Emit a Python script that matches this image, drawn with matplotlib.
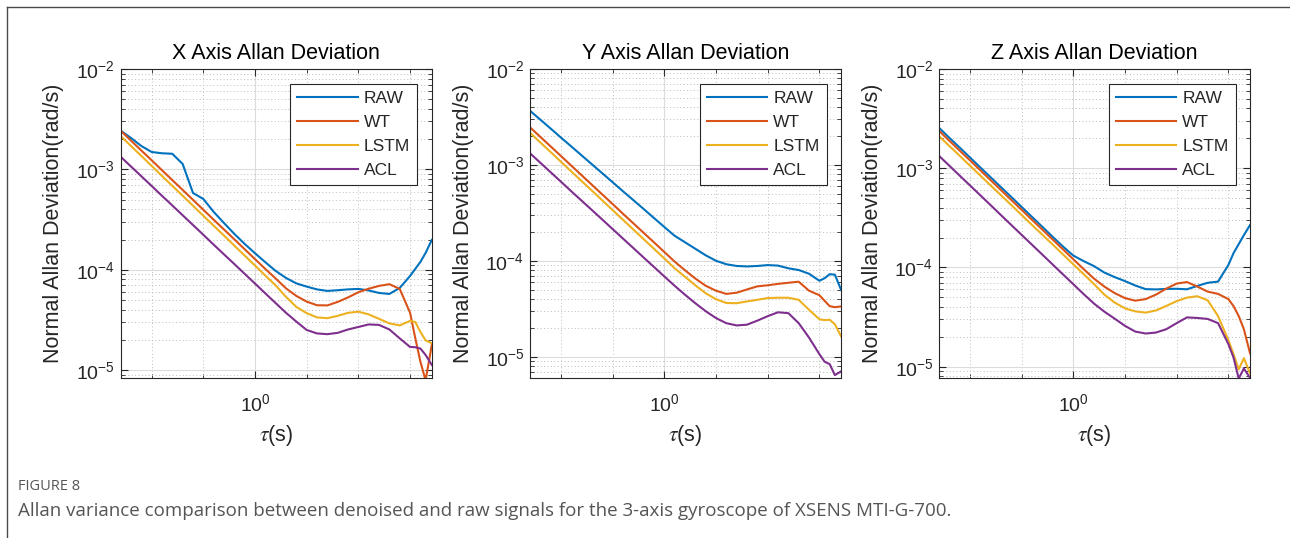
import numpy as np
import matplotlib
matplotlib.use("Agg")
import matplotlib.pyplot as plt
from matplotlib.ticker import FixedLocator, NullFormatter, LogLocator, LogFormatterSciNotation
from matplotlib.lines import Line2D

plt.rcParams['font.family'] = ['Liberation Sans', 'DejaVu Sans']
plt.rcParams['mathtext.fontset'] = 'stix'

# ---------------- data ----------------
tau = [0.00251, 0.00398, 0.00631, 0.01, 0.0158, 0.0251, 0.0398, 0.0631, 0.1, 0.158,
       0.251, 0.398, 0.631, 1.0, 1.58, 2.51, 3.98, 6.31, 10.0, 15.8,
       25.1, 39.8, 63.1, 100.0, 158.0, 251.0, 398.0, 631.0, 1000.0, 1259.0,
       1585.0, 1995.0, 2630.0]

series_names = ["RAW", "WT", "LSTM", "ACL"]
panel_titles = ["X Axis Allan Deviation", "Y Axis Allan Deviation", "Z Axis Allan Deviation"]

x_raw = [2.43e-3, 2.056e-3, 1.71e-3, 1.49e-3, 1.447e-3, 1.43e-3, 1.132e-3, 5.82e-4, 5.07e-4, 3.78e-4,
         2.92e-4, 2.275e-4, 1.807e-4, 1.459e-4, 1.189e-4, 9.73e-5, 8.28e-5, 7.31e-5, 6.79e-5, 6.37e-5,
         6.15e-5, 6.25e-5, 6.37e-5, 6.44e-5, 6.22e-5, 5.87e-5, 5.74e-5, 6.59e-5, 8.67e-5, 1.019e-4,
         1.197e-4, 1.469e-4, 1.98e-4]
x_wt = [2.43e-3, 1.936e-3, 1.542e-3, 1.233e-3, 9.82e-4, 7.82e-4, 6.24e-4, 4.97e-4, 3.96e-4, 3.155e-4,
        2.518e-4, 2.009e-4, 1.6e-4, 1.276e-4, 1.019e-4, 8.18e-5, 6.52e-5, 5.48e-5, 4.81e-5, 4.43e-5,
        4.41e-5, 4.78e-5, 5.30e-5, 5.97e-5, 6.47e-5, 6.90e-5, 7.18e-5, 6.44e-5, 3.72e-5, 2.09e-5,
        1.21e-5, 7.9e-6, 1.78e-5]
x_lstm = [2.153e-3, 1.71e-3, 1.363e-3, 1.084e-3, 8.61e-4, 6.85e-4, 5.46e-4, 4.34e-4, 3.45e-4, 2.75e-4,
          2.19e-4, 1.738e-4, 1.384e-4, 1.102e-4, 8.75e-5, 6.98e-5, 5.36e-5, 4.26e-5, 3.69e-5, 3.35e-5,
          3.29e-5, 3.47e-5, 3.72e-5, 3.82e-5, 3.59e-5, 3.24e-5, 2.92e-5, 2.79e-5, 3.09e-5, 3.02e-5,
          2.40e-5, 1.98e-5, 1.85e-5]
x_acl = [1.338e-3, 1.069e-3, 8.55e-4, 6.84e-4, 5.46e-4, 4.37e-4, 3.49e-4, 2.79e-4, 2.23e-4, 1.78e-4,
         1.422e-4, 1.14e-4, 9.10e-5, 7.28e-5, 5.82e-5, 4.65e-5, 3.72e-5, 3.04e-5, 2.51e-5, 2.32e-5,
         2.28e-5, 2.35e-5, 2.54e-5, 2.69e-5, 2.85e-5, 2.82e-5, 2.54e-5, 2.07e-5, 1.70e-5, 1.69e-5,
         1.64e-5, 1.416e-5, 1.127e-5]

y_raw = [3.68e-3, 2.97e-3, 2.40e-3, 1.93e-3, 1.563e-3, 1.259e-3, 1.016e-3, 8.20e-4, 6.61e-4, 5.33e-4,
         4.31e-4, 3.48e-4, 2.80e-4, 2.26e-4, 1.83e-4, 1.567e-4, 1.34e-4, 1.146e-4, 1.005e-4, 9.25e-5,
         8.87e-5, 8.77e-5, 8.87e-5, 9.06e-5, 8.95e-5, 8.39e-5, 8.05e-5, 7.36e-5, 6.22e-5, 6.61e-5,
         7.28e-5, 7.20e-5, 5.0e-5]
y_wt = [2.47e-3, 1.965e-3, 1.563e-3, 1.241e-3, 9.86e-4, 7.82e-4, 6.21e-4, 4.93e-4, 3.92e-4, 3.11e-4,
        2.47e-4, 1.965e-4, 1.563e-4, 1.241e-4, 9.86e-5, 8.0e-5, 6.56e-5, 5.52e-5, 4.90e-5, 4.54e-5,
        4.67e-5, 5.05e-5, 5.44e-5, 5.58e-5, 5.77e-5, 5.93e-5, 6.08e-5, 4.90e-5, 4.40e-5, 3.85e-5,
        3.38e-5, 3.30e-5, 3.36e-5]
y_lstm = [2.17e-3, 1.72e-3, 1.365e-3, 1.081e-3, 8.58e-4, 6.80e-4, 5.40e-4, 4.28e-4, 3.39e-4, 2.69e-4,
          2.13e-4, 1.69e-4, 1.34e-4, 1.062e-4, 8.41e-5, 6.85e-5, 5.58e-5, 4.61e-5, 4.0e-5, 3.65e-5,
          3.63e-5, 3.79e-5, 3.94e-5, 4.11e-5, 4.14e-5, 4.14e-5, 3.94e-5, 3.10e-5, 2.47e-5, 2.42e-5,
          2.44e-5, 2.19e-5, 1.64e-5]
y_acl = [1.327e-3, 1.057e-3, 8.41e-4, 6.70e-4, 5.33e-4, 4.25e-4, 3.39e-4, 2.70e-4, 2.15e-4, 1.714e-4,
         1.365e-4, 1.086e-4, 8.66e-5, 6.90e-5, 5.52e-5, 4.45e-5, 3.63e-5, 3.0e-5, 2.54e-5, 2.25e-5,
         2.13e-5, 2.17e-5, 2.39e-5, 2.66e-5, 2.92e-5, 2.86e-5, 2.25e-5, 1.59e-5, 1.07e-5, 8.93e-6,
         8.41e-6, 6.47e-6, 7.08e-6]

z_raw = [2.56e-3, 2.03e-3, 1.618e-3, 1.285e-3, 1.021e-3, 8.11e-4, 6.45e-4, 5.13e-4, 4.07e-4, 3.24e-4,
         2.57e-4, 2.04e-4, 1.625e-4, 1.318e-4, 1.16e-4, 1.033e-4, 8.89e-5, 8.0e-5, 7.29e-5, 6.58e-5,
         6.05e-5, 6.01e-5, 6.08e-5, 6.1e-5, 6.03e-5, 6.52e-5, 7.01e-5, 7.2e-5, 1.06e-4, 1.396e-4,
         1.72e-4, 2.12e-4, 2.68e-4]
z_wt = [2.39e-3, 1.897e-3, 1.508e-3, 1.202e-3, 9.55e-4, 7.59e-4, 6.03e-4, 4.79e-4, 3.81e-4, 3.03e-4,
        2.41e-4, 1.914e-4, 1.522e-4, 1.21e-4, 9.64e-5, 7.73e-5, 6.42e-5, 5.52e-5, 4.91e-5, 4.63e-5,
        4.80e-5, 5.33e-5, 6.13e-5, 6.88e-5, 7.13e-5, 6.42e-5, 5.71e-5, 5.42e-5, 4.80e-5, 4.08e-5,
        3.24e-5, 2.39e-5, 1.36e-5]
z_lstm = [2.11e-3, 1.679e-3, 1.337e-3, 1.062e-3, 8.46e-4, 6.72e-4, 5.35e-4, 4.26e-4, 3.38e-4, 2.69e-4,
          2.14e-4, 1.706e-4, 1.355e-4, 1.076e-4, 8.58e-5, 6.81e-5, 5.33e-5, 4.43e-5, 3.87e-5, 3.61e-5,
          3.51e-5, 3.69e-5, 4.10e-5, 4.58e-5, 4.97e-5, 5.13e-5, 4.67e-5, 3.24e-5, 1.85e-5, 1.34e-5,
          9.4e-6, 1.22e-5, 8.56e-6]
z_acl = [1.337e-3, 1.062e-3, 8.44e-4, 6.72e-4, 5.35e-4, 4.25e-4, 3.37e-4, 2.68e-4, 2.13e-4, 1.698e-4,
         1.349e-4, 1.072e-4, 8.52e-5, 6.78e-5, 5.40e-5, 4.33e-5, 3.59e-5, 3.05e-5, 2.58e-5, 2.26e-5,
         2.16e-5, 2.21e-5, 2.39e-5, 2.75e-5, 3.14e-5, 3.10e-5, 3.03e-5, 2.75e-5, 1.69e-5, 1.236e-5,
         7.6e-6, 9.6e-6, 7.7e-6]

y_lower = [8.4e-6, 6.08e-6, 7.75e-6]
x_major_ticks = [1.0]
x_minor_ticks = [1e-2, 1e-1, 1e1, 1e2, 1e3]

ylabel_text = "Normal Allan Deviation(rad/s)"
xlabel_text = r"$\tau$(s)"
fig_label = "FIGURE 8"
caption = ("Allan variance comparison between denoised and raw signals for the "
           "3-axis gyroscope of XSENS MTI-G-700.")

# ---------------- styling ----------------
colors = ['#0072BD', '#D95319', '#EDB120', '#7E2F8E']
W, H = 1290, 538
fig = plt.figure(figsize=(W / 100, H / 100), dpi=100)

lefts_px = [120.7, 530.0, 939.0]
ax_w_px, ax_top_px, ax_bot_px = 311.0, 69.0, 377.7

data = [(x_raw, x_wt, x_lstm, x_acl), (y_raw, y_wt, y_lstm, y_acl), (z_raw, z_wt, z_lstm, z_acl)]
dark = '#262626'

for i in range(3):
    ax = fig.add_axes([lefts_px[i] / W, 1 - ax_bot_px / H, ax_w_px / W, (ax_bot_px - ax_top_px) / H])
    ax.set_xscale('log')
    ax.set_yscale('log')
    for vals, c, name in zip(data[i], colors, series_names):
        ax.plot(tau, vals, color=c, lw=1.5, label=name, solid_joinstyle='round')
    ax.set_xlim(0.00252, 2620)
    ax.set_ylim(y_lower[i], 1e-2)

    ax.xaxis.set_major_locator(FixedLocator(x_major_ticks))
    ax.xaxis.set_minor_locator(FixedLocator(x_minor_ticks))
    ax.xaxis.set_major_formatter(LogFormatterSciNotation())
    ax.xaxis.set_minor_formatter(NullFormatter())
    ax.yaxis.set_major_locator(LogLocator(base=10, numticks=10))
    ax.yaxis.set_minor_locator(LogLocator(base=10, subs=np.arange(2, 10) * 1.0, numticks=30))
    ax.yaxis.set_minor_formatter(NullFormatter())

    ax.tick_params(which='both', direction='in', top=True, right=True, colors=dark, labelsize=14)
    ax.tick_params(which='major', length=5, width=0.8)
    ax.tick_params(which='minor', length=3, width=0.6)
    ax.tick_params(axis='x', which='major', pad=11)
    ax.tick_params(axis='y', which='major', pad=4)

    ax.grid(which='major', color='#dcdcdc', lw=0.8, ls='-')
    ax.grid(which='minor', color='#bdbdbd', lw=0.7, ls=(0, (1, 2.5)))
    ax.set_axisbelow(True)
    for s in ax.spines.values():
        s.set_color(dark)
        s.set_linewidth(0.8)

    ax.set_title(panel_titles[i], fontsize=15.5, pad=7.5, color='black')
    ax.set_ylabel(ylabel_text, fontsize=15.5, color=dark)
    ax.yaxis.set_label_coords(-0.181, 0.5)
    ax.set_xlabel(xlabel_text, fontsize=15.5, color=dark)
    ax.xaxis.set_label_coords(0.5, -0.147)

    leg = ax.legend(loc='upper right', bbox_to_anchor=(0.9537, 0.9504), borderaxespad=0,
                    fontsize=12.5, frameon=True, fancybox=False, edgecolor=dark, framealpha=1,
                    handlelength=3.5, handletextpad=0.35, labelspacing=0.51, borderpad=0.4)
    leg.get_frame().set_linewidth(0.8)
    for t in leg.get_texts():
        t.set_color(dark)

# figure border (top and left lines)
bx = 7.3 / W
by = 1 - 7.3 / H
fig.add_artist(Line2D([bx, bx], [0, by], transform=fig.transFigure, color='#4a4a4a', lw=1.0))
fig.add_artist(Line2D([bx, 1], [by, by], transform=fig.transFigure, color='#4a4a4a', lw=1.0))

fig.text(18 / W, 1 - 487 / H, fig_label, fontsize=10.5, color='#555555', va='center',
         family=['Open Sans', 'DejaVu Sans'])
fig.text(18 / W, 1 - 511 / H, caption, fontsize=13.5, color='#555555', va='center',
         family=['Open Sans', 'DejaVu Sans'])

fig.savefig('out.png', dpi=100)
